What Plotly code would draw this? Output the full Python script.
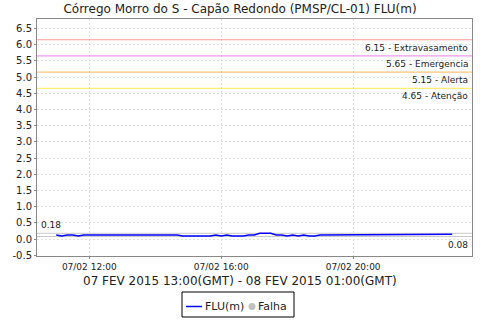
import plotly.graph_objects as go
import pandas as pd

# Data: level readings every 10 minutes, 07/02/2015 11:00 -> 23:00 (local)
start_time = "2015-02-07 11:00"
flu_values = [
    0.13, 0.10, 0.13, 0.13, 0.10, 0.13, 0.13, 0.13, 0.13, 0.13,
    0.13, 0.13, 0.13, 0.13, 0.13, 0.13, 0.13, 0.13, 0.13, 0.13,
    0.13, 0.11, 0.13, 0.10, 0.10, 0.10, 0.10, 0.10, 0.10, 0.13,
    0.10, 0.13, 0.10, 0.10, 0.10, 0.13, 0.13, 0.18, 0.18, 0.18,
    0.13, 0.13, 0.10, 0.13, 0.10, 0.13, 0.10, 0.10, 0.13, 0.13,
    0.13, 0.13, 0.13, 0.13, 0.13, 0.13, 0.13, 0.13, 0.13, 0.13,
    0.13, 0.13, 0.15, 0.15, 0.15, 0.15, 0.15, 0.13, 0.13, 0.13,
    0.13, 0.15, 0.15,
]
times = pd.date_range(start_time, periods=len(flu_values), freq="10min")

threshold_values = [6.15, 5.65, 5.15, 4.65]
threshold_names = ["Extravasamento", "Emergencia", "Alerta", "Atenção"]
threshold_colors = ["#ff9a9a", "#ee9aee", "#ffc47a", "#ffee70"]

max_value = 0.18
min_value = 0.08

title_text = "Córrego Morro do S - Capão Redondo (PMSP/CL-01) FLU(m)"
xaxis_text = "07 FEV 2015 13:00(GMT) - 08 FEV 2015 01:00(GMT)"
legend_names = ["FLU(m)", "Falha"]
y_ticks = [-0.5 + 0.5 * i for i in range(15)]
x_ticks = ["2015-02-07 12:00", "2015-02-07 16:00", "2015-02-07 20:00"]
x_ticktext = ["07/02 12:00", "07/02 16:00", "07/02 20:00"]

font_family = "DejaVu Sans"
W, H = 480, 320
ML, MR, MT, MB = 37, 8, 19, 64
PW, PH = W - ML - MR, H - MT - MB


def px_x(px):
    return (px - ML) / PW


def px_y(py):
    return (H - MB - py) / PH


fig = go.Figure()

fig.add_trace(go.Scatter(
    x=times, y=flu_values, mode="lines", name=legend_names[0],
    line=dict(color="#0000ff", width=1.5), showlegend=False,
))

shapes = []
annotations = []
for v, n, c in zip(threshold_values, threshold_names, threshold_colors):
    shapes.append(dict(type="line", xref="paper", x0=0, x1=1, yref="y", y0=v, y1=v,
                       line=dict(color=c, width=1.2), layer="above"))
    annotations.append(dict(xref="paper", x=1, yref="y", y=v, xanchor="right", yanchor="top",
                            xshift=-2, yshift=-1, showarrow=False,
                            text=f"{v:.2f} - {n}",
                            font=dict(family=font_family, size=9, color="#222")))
for v in [max_value, min_value]:
    shapes.append(dict(type="line", xref="paper", x0=0, x1=1, yref="y", y0=v, y1=v,
                       line=dict(color="#c8c8c8", width=1), layer="below"))
annotations.append(dict(xref="paper", x=0, yref="y", y=max_value, xanchor="left", yanchor="bottom",
                        xshift=2, yshift=1, showarrow=False, text=f"{max_value:.2f}",
                        font=dict(family=font_family, size=9, color="#222")))
annotations.append(dict(xref="paper", x=1, yref="y", y=min_value, xanchor="right", yanchor="top",
                        xshift=-2, yshift=-1, showarrow=False, text=f"{min_value:.2f}",
                        font=dict(family=font_family, size=9, color="#222")))
annotations.append(dict(xref="paper", x=px_x(240), yref="paper", y=px_y(281), xanchor="center",
                        yanchor="middle", showarrow=False, text=xaxis_text,
                        font=dict(family=font_family, size=12, color="#222")))

# Legend (drawn as a boxed key below the axis title)
ly = 306.5
shapes.append(dict(type="rect", xref="paper", yref="paper",
                   x0=px_x(182), x1=px_x(294), y0=px_y(317), y1=px_y(292),
                   line=dict(color="black", width=1), fillcolor="white"))
shapes.append(dict(type="line", xref="paper", yref="paper",
                   x0=px_x(186), x1=px_x(202), y0=px_y(ly), y1=px_y(ly),
                   line=dict(color="#0000ff", width=1.5)))
shapes.append(dict(type="circle", xref="paper", yref="paper",
                   x0=px_x(248.5), x1=px_x(255.5), y0=px_y(ly + 3.5), y1=px_y(ly - 3.5),
                   line=dict(color="#c0c0c0", width=0), fillcolor="#c0c0c0"))
annotations.append(dict(xref="paper", yref="paper", x=px_x(203), y=px_y(ly), xanchor="left",
                        yanchor="middle", showarrow=False, text=legend_names[0],
                        font=dict(family=font_family, size=11, color="#222")))
annotations.append(dict(xref="paper", yref="paper", x=px_x(256), y=px_y(ly), xanchor="left",
                        yanchor="middle", showarrow=False, text=legend_names[1],
                        font=dict(family=font_family, size=11, color="#222")))

fig.update_layout(
    width=W, height=H,
    margin=dict(l=ML, r=MR, t=MT, b=MB),
    paper_bgcolor="white", plot_bgcolor="white",
    title=dict(text=title_text, x=0.5, xanchor="center", y=0.985, yanchor="top",
               font=dict(family=font_family, size=12, color="#222")),
    font=dict(family=font_family, size=10, color="#222"),
    showlegend=False,
    shapes=shapes,
    annotations=annotations,
)
fig.update_xaxes(
    range=["2015-02-07 10:25", "2015-02-07 23:36"],
    tickvals=x_ticks, ticktext=x_ticktext,
    tickfont=dict(size=9), ticks="outside", ticklen=2, tickcolor="#888",
    showgrid=True, gridcolor="#e0e0e0", griddash="2px,2px", gridwidth=1,
    showline=True, linecolor="#888", mirror=True, zeroline=False,
)
fig.update_yaxes(
    range=[-0.52, 6.79], tickvals=y_ticks, ticktext=[f"{t:.1f}" for t in y_ticks],
    tickfont=dict(size=10), ticks="outside", ticklen=2, tickcolor="#888",
    showgrid=True, gridcolor="#e0e0e0", griddash="2px,2px", gridwidth=1,
    showline=True, linecolor="#888", mirror=True, zeroline=False,
)

fig.write_html("out.html")
